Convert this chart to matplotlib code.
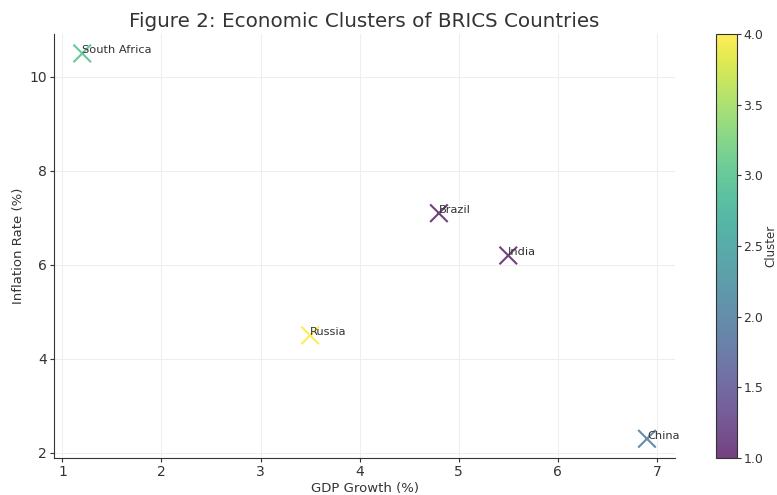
import numpy as np
import matplotlib
matplotlib.use("Agg")
import matplotlib.pyplot as plt

countries = ["Brazil", "Russia", "India", "China", "South Africa"]
gdp_growth = [4.8, 3.5, 5.5, 6.9, 1.2]
inflation = [7.1, 4.5, 6.2, 2.3, 10.5]
cluster = [1, 4, 1, 2, 3]

fig = plt.figure(figsize=(7.77, 4.95), dpi=100)
ax = fig.add_axes([0.0695, 0.0747, 0.7995, 0.8563])
cax = fig.add_axes([0.9215, 0.0747, 0.027, 0.8563])

sc = ax.scatter(gdp_growth, inflation, c=cluster, cmap="viridis", marker="x",
                s=160, linewidths=1.5, alpha=0.75)
for name, x, y in zip(countries, gdp_growth, inflation):
    ax.text(x, y, name, fontsize=8.2, color="#333333")

ax.set_title("Figure 2: Economic Clusters of BRICS Countries", fontsize=14.3,
             color="#333333", pad=5)
ax.set_xlabel("GDP Growth (%)", fontsize=9.5, color="#333333", labelpad=2)
ax.set_ylabel("Inflation Rate (%)", fontsize=9.5, color="#333333", labelpad=3)
ax.grid(True, color="#eeeeee", linewidth=0.8)
ax.set_axisbelow(True)
for s in ["top", "right"]:
    ax.spines[s].set_visible(False)
for s in ["left", "bottom"]:
    ax.spines[s].set_color("#333333")
ax.tick_params(labelsize=10, colors="#333333", length=3, pad=2)

cb = fig.colorbar(sc, cax=cax)
cb.set_label("Cluster", fontsize=8.5, color="#333333", labelpad=1)
cb.ax.tick_params(labelsize=9, colors="#333333", length=3, pad=1.5)
cb.outline.set_edgecolor("#333333")

fig.savefig("out.png", dpi=100)
